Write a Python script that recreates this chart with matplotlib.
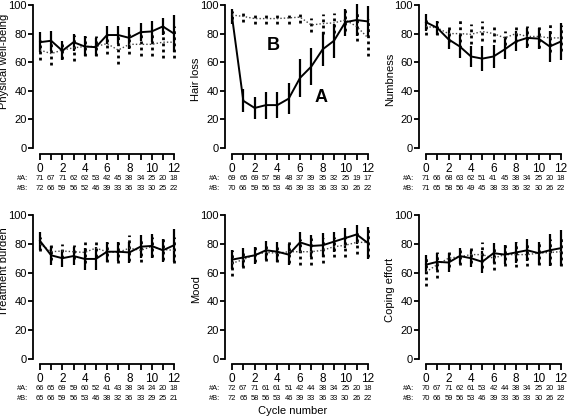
import numpy as np
import matplotlib
matplotlib.use("Agg")
import matplotlib.pyplot as plt

plt.rcParams['font.family'] = ['Liberation Sans', 'DejaVu Sans']

cycles = list(range(13))

phys_a = [74, 75, 68, 74, 71, 70.5, 79, 79, 77, 81, 81.5, 85, 80]
phys_a_err = [7, 7, 6.5, 6, 7, 6.5, 6.5, 6, 7.5, 6.5, 7.5, 6, 13]
phys_b = [68.5, 66, 68.5, 70, 71, 71, 73, 68.5, 72.5, 72.5, 72.5, 74, 74]
phys_b_err = [7, 8, 6, 9, 7, 7, 7, 10, 7, 8, 8, 11, 11]

hair_a = [92, 33, 28, 30, 30, 34.5, 49, 57, 69, 75, 88, 89.5, 88.5]
hair_a_err = [5, 8, 8, 9.5, 9, 11, 13, 13, 12, 12, 9.5, 11, 10.5]
hair_b = [93, 92, 90.5, 90.5, 90.5, 91, 91.5, 86, 87, 87.5, 89.5, 85, 77]
hair_b_err = [3, 4, 4, 4, 4, 4, 4, 5, 7, 7, 8, 10, 13]

numb_a = [88, 84, 76, 71, 64, 62.5, 64, 69, 74.5, 77, 76.5, 71, 74.5]
numb_a_err = [6, 5, 6.5, 8, 7.5, 8.5, 8, 7, 7, 7, 7.5, 11, 13]
numb_b = [85, 84, 80, 80, 79.5, 81.5, 80, 77, 80, 78, 78, 77, 77]
numb_b_err = [6, 5, 6, 10, 7, 7, 6, 5, 6, 7, 8, 10, 9]

burden_a = [82, 72, 70, 71.5, 69.5, 69.5, 74.5, 74.5, 74, 78, 78.5, 75.5, 79]
burden_a_err = [6, 6.5, 6, 6.5, 7.5, 8, 7, 6.5, 7.5, 8, 8.5, 8, 11.5]
burden_b = [80, 74.5, 75, 74.5, 74, 77, 74.5, 74, 77, 75.5, 78, 76, 75.5]
burden_b_err = [5, 6, 5, 5, 7, 6, 7, 7, 9, 8, 7, 7, 9]

mood_a = [69, 70.5, 72, 75.5, 74.5, 72.5, 81, 78.5, 79, 81.5, 84, 86.5, 80.5]
mood_a_err = [6.5, 6.5, 6, 6.5, 7, 7.5, 7.5, 7.5, 8.5, 7, 7, 6.5, 11]
mood_b = [66.5, 69, 72.5, 74, 73.5, 74.5, 74.5, 74.5, 75.5, 78, 79, 81, 81]
mood_b_err = [9, 6, 5, 6, 6, 8, 9, 9.5, 8.5, 7, 8.5, 8, 10.5]

coping_a = [65.5, 67.5, 67, 71.5, 70, 67.5, 73.5, 72.5, 74, 75.5, 73.5, 75.5, 77]
coping_a_err = [6.5, 6, 6.5, 5.5, 6, 7.5, 7, 6.5, 7.5, 7.5, 8, 11, 12.5]
coping_b = [60.5, 65.5, 70, 71, 72.5, 72.5, 70, 72.5, 72.5, 72.5, 73.5, 74, 74.5]
coping_b_err = [9.5, 9, 6, 6, 6, 9, 8.5, 8, 8.5, 8, 8, 9, 10]

phys_n_a = [71, 67, 71, 62, 62, 53, 42, 45, 38, 34, 25, 20, 18]
phys_n_b = [72, 66, 59, 56, 52, 46, 39, 33, 36, 33, 30, 25, 22]
hair_n_a = [69, 65, 69, 57, 58, 48, 37, 39, 35, 32, 25, 19, 17]
hair_n_b = [70, 66, 59, 56, 53, 46, 39, 33, 36, 33, 30, 26, 22]
numb_n_a = [71, 66, 68, 63, 62, 51, 41, 45, 38, 34, 25, 20, 18]
numb_n_b = [71, 65, 58, 56, 49, 45, 38, 33, 36, 32, 30, 26, 22]
burden_n_a = [66, 65, 69, 59, 60, 52, 41, 43, 38, 34, 24, 20, 18]
burden_n_b = [65, 66, 59, 56, 53, 46, 38, 32, 36, 33, 29, 25, 21]
mood_n_a = [72, 67, 71, 61, 61, 51, 42, 44, 38, 34, 25, 20, 18]
mood_n_b = [72, 65, 58, 56, 53, 46, 39, 33, 36, 33, 30, 26, 22]
coping_n_a = [70, 67, 71, 62, 61, 53, 42, 44, 38, 34, 25, 20, 18]
coping_n_b = [70, 66, 59, 56, 53, 46, 39, 33, 36, 33, 30, 26, 22]

panels = [
    ("Physical well-being", phys_a, phys_a_err, phys_b, phys_b_err, phys_n_a, phys_n_b),
    ("Hair loss", hair_a, hair_a_err, hair_b, hair_b_err, hair_n_a, hair_n_b),
    ("Numbness", numb_a, numb_a_err, numb_b, numb_b_err, numb_n_a, numb_n_b),
    ("Treatment burden", burden_a, burden_a_err, burden_b, burden_b_err, burden_n_a, burden_n_b),
    ("Mood", mood_a, mood_a_err, mood_b, mood_b_err, mood_n_a, mood_n_b),
    ("Coping effort", coping_a, coping_a_err, coping_b, coping_b_err, coping_n_a, coping_n_b),
]

# where the (rotated) y label is centred, as a fraction of the axes height
label_pos = {"Physical well-being": 0.62, "Treatment burden": 0.62}

W, H = 567, 417
# pixel geometry: columns (x of cycle 0, x of cycle 12), rows (y of 100, y of 0, y of x-axis)
cols = [(40, 174), (232, 368), (426, 561)]
rows = [(5, 148, 154), (215, 359, 364)]

fig = plt.figure(figsize=(W / 100, H / 100), dpi=100)

for i, (label, a, a_err, b, b_err, n_a, n_b) in enumerate(panels):
    x0, x12 = cols[i % 3]
    y100, y0, yax = rows[i // 3]
    ux = (x12 - x0) / 12.0
    uy = (y0 - y100) / 100.0
    left_px, right_px = x0 - 7, x12 + 4
    ax = fig.add_axes([left_px / W, (H - yax) / H, (right_px - left_px) / W, (yax - y100) / H])
    ax.set_xlim(-7 / ux, 12 + 4 / ux)
    ax.set_ylim(-(yax - y0) / uy, 100)

    eb = ax.errorbar(cycles, b, yerr=b_err, color='#444444', lw=1.0, ls=(0, (1, 1.5)),
                     elinewidth=2.0, ecolor='black', capsize=0, clip_on=False)
    eb[2][0].set_linestyle((0, (1, 1.2)))
    ax.errorbar(cycles, a, yerr=a_err, color='black', lw=1.4,
                elinewidth=1.6, capsize=0, clip_on=False)

    for s in ['top', 'right']:
        ax.spines[s].set_visible(False)
    ax.spines['left'].set_bounds(0, 100)
    ax.spines['bottom'].set_bounds(0, 12)
    for s in ['left', 'bottom']:
        ax.spines[s].set_linewidth(1.3)

    ax.set_yticks([0, 20, 40, 60, 80, 100])
    ax.set_xticks(cycles)
    ax.set_xticklabels([str(c) if c % 2 == 0 else '' for c in cycles])
    ax.tick_params(axis='x', length=4.5, width=1.3, labelsize=8.5, pad=2)
    ax.tick_params(axis='y', length=3.5, width=1.3, labelsize=8, pad=1)
    ax.set_ylabel(label, fontsize=8)
    ax.yaxis.set_label_coords(-24 / (right_px - left_px), label_pos.get(label, 0.5))

    tr = ax.get_xaxis_transform()
    for c in cycles:
        ax.annotate(str(n_a[c]), xy=(c, 0), xycoords=tr, xytext=(0, -24),
                    textcoords='offset pixels', ha='center', va='center', fontsize=5.4)
        ax.annotate(str(n_b[c]), xy=(c, 0), xycoords=tr, xytext=(0, -34),
                    textcoords='offset pixels', ha='center', va='center', fontsize=5.4)
    ax.annotate("#A:", xy=(0, 0), xycoords=tr, xytext=(-12, -24),
                textcoords='offset pixels', ha='right', va='center', fontsize=5.4)
    ax.annotate("#B:", xy=(0, 0), xycoords=tr, xytext=(-12, -34),
                textcoords='offset pixels', ha='right', va='center', fontsize=5.4)

    if label == "Hair loss":
        ax.text(3.6, 72, "B", fontsize=13, fontweight='bold', ha='center', va='center')
        ax.text(7.9, 35, "A", fontsize=13, fontweight='bold', ha='center', va='center')

fig.text(293 / W, 1 - 411 / H, "Cycle number", ha='center', va='center', fontsize=8)

fig.savefig("out.png", dpi=100)
